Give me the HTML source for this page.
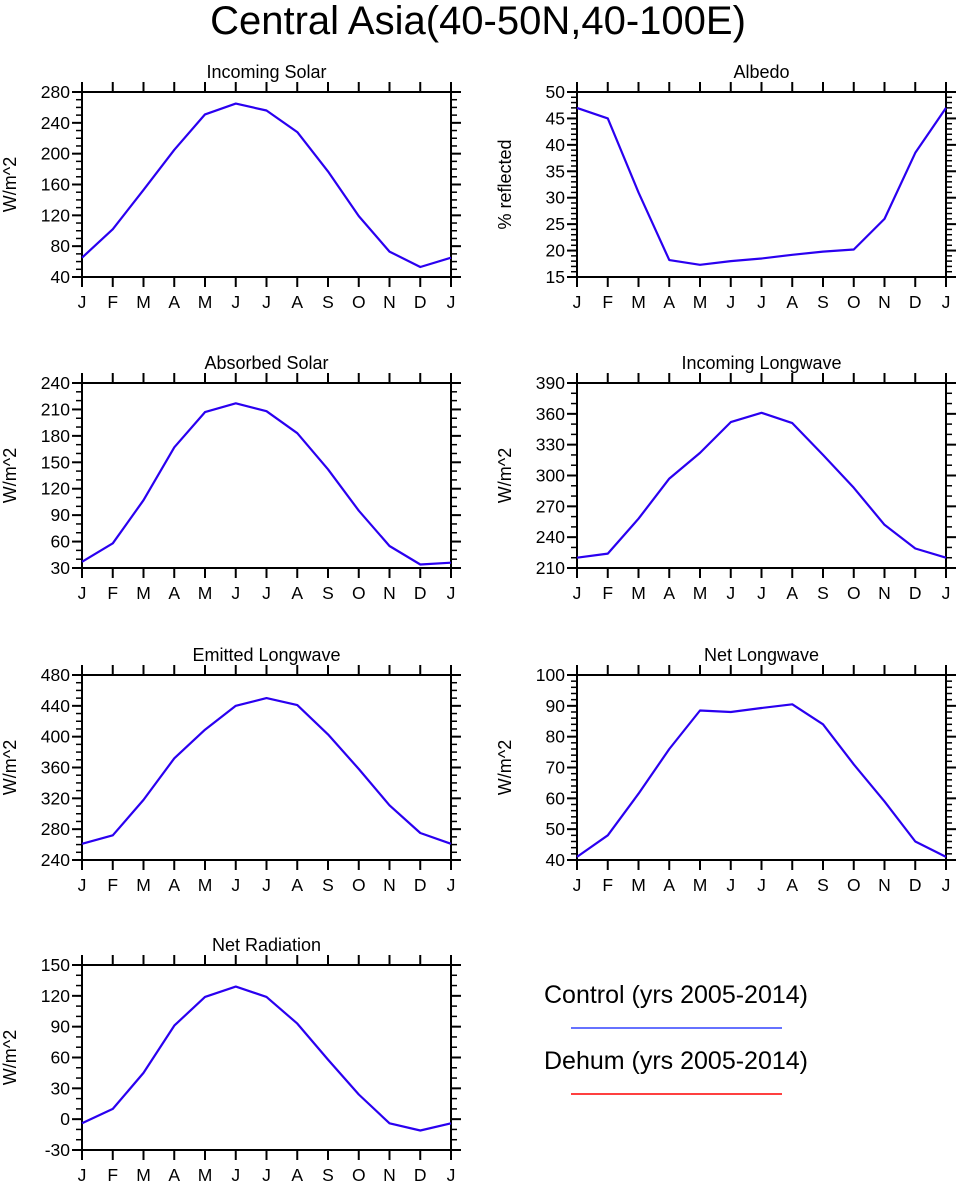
<!DOCTYPE html>
<html><head><meta charset="utf-8"><style>
body{margin:0;background:#fff;font-family:"Liberation Sans",sans-serif;}
svg text{font-family:"Liberation Sans",sans-serif;fill:#000;}
</style></head><body>
<svg id="chart" width="957" height="1187" viewBox="0 0 957 1187" xmlns="http://www.w3.org/2000/svg">
<text x="478" y="34" font-size="40" text-anchor="middle">Central Asia(40-50N,40-100E)</text>
<g>
<text x="676" y="1003" font-size="25" text-anchor="middle">Control (yrs 2005-2014)</text>
<line x1="571" y1="1028" x2="782" y2="1028" stroke="#3344ff" stroke-width="1.5"/>
<text x="676" y="1069" font-size="25" text-anchor="middle">Dehum (yrs 2005-2014)</text>
<line x1="571" y1="1094" x2="782" y2="1094" stroke="#ff0000" stroke-width="1.5"/>
</g>
</svg>
<script>
const months = ["J","F","M","A","M","J","J","A","S","O","N","D","J"];
const titles = ["Incoming Solar","Albedo","Absorbed Solar","Incoming Longwave","Emitted Longwave","Net Longwave","Net Radiation"];
const yTitles = ["W/m^2","% reflected","W/m^2","W/m^2","W/m^2","W/m^2","W/m^2"];
const incomingSolar = [65,102,153,205,251,265,256,228,177,119,73,53,65];
const albedo = [47,45,31,18.2,17.3,18,18.5,19.2,19.8,20.2,26,38.5,47];
const absorbedSolar = [37,58,107,167,207,217,208,183,142,95,55,34,36];
const incomingLW = [220,224,258,297,322,352,361,351,320,288,252,229,220];
const emittedLW = [261,272,318,372,409,440,450,441,403,358,311,275,261];
const netLW = [41,48,61.5,76,88.5,88,89.3,90.5,84,71,59,46,41];
const netRad = [-4,10,45,91,119,129,119,93,58,24,-4,-11,-4];
const yMin = [40,15,30,210,240,40,-30];
const yMax = [280,50,240,390,480,100,150];
const yStep = [40,5,30,30,40,10,30];
const yMinor = [10,1,10,10,10,2,10];
const series = [incomingSolar,albedo,absorbedSolar,incomingLW,emittedLW,netLW,netRad];

const svg = document.getElementById('chart');
const NS = 'http://www.w3.org/2000/svg';
function mk(tag, attrs, parent){const e=document.createElementNS(NS,tag);for(const k in attrs)e.setAttribute(k,attrs[k]);parent.appendChild(e);return e;}
const lefts=[82,577], tops=[92,383,675,965], W=369, H=185;
const names=['incoming-solar','albedo','absorbed-solar','incoming-longwave','emitted-longwave','net-longwave','net-radiation'];
for(let p=0;p<7;p++){
  const L=lefts[p%2], T=tops[Math.floor(p/2)], R=L+W, B=T+H;
  const g=mk('g',{},svg);
  
  
  const xs=i=>L+i*W/12;
  const ys=v=>B-(v-yMin[p])/(yMax[p]-yMin[p])*H;
  const t=mk('text',{x:(L+R)/2,y:T-14,'font-size':18,'text-anchor':'middle'},g);
  t.textContent=titles[p];
  
  
  const yt=mk('text',{x:0,y:0,'font-size':18,'text-anchor':'middle',transform:`translate(${L-66},${(T+B)/2}) rotate(-90)`},g);
  yt.textContent=yTitles[p];
  
  
  for(let v=yMin[p];v<=yMax[p]+1e-6;v+=yMinor[p]){
    const y=ys(v);
    mk('line',{x1:L-6,y1:y,x2:L,y2:y,stroke:'#000','stroke-width':1.5},g);
    mk('line',{x1:R,y1:y,x2:R+6,y2:y,stroke:'#000','stroke-width':1.5},g);
  }
  for(let v=yMin[p];v<=yMax[p]+1e-6;v+=yStep[p]){
    const y=ys(v);
    mk('line',{x1:L-10,y1:y,x2:L,y2:y,stroke:'#000','stroke-width':2},g);
    mk('line',{x1:R,y1:y,x2:R+10,y2:y,stroke:'#000','stroke-width':2},g);
    const lb=mk('text',{x:L-12,y:y+6,'font-size':17.5,'text-anchor':'end'},g);
    lb.textContent=String(Math.round(v));
    
    
  }
  months.forEach((m,i)=>{
    const x=xs(i);
    mk('line',{x1:x,y1:B,x2:x,y2:B+10,stroke:'#000','stroke-width':2},g);
    mk('line',{x1:x,y1:T-10,x2:x,y2:T,stroke:'#000','stroke-width':2},g);
    const lb=mk('text',{x:x,y:B+31,'font-size':17.5,'text-anchor':'middle'},g);
    lb.textContent=m;
    
    
  });
  mk('rect',{x:L,y:T,width:W,height:H,fill:'none',stroke:'#000','stroke-width':2},g);
  const d=series[p].map((v,i)=>(i?'L':'M')+xs(i).toFixed(1)+','+ys(v).toFixed(1)).join('');
  const ln=mk('path',{d:d,fill:'none',stroke:'#2a00f0','stroke-width':2.2,'stroke-linejoin':'round'},g);
  
  
}
</script>
</body></html>
